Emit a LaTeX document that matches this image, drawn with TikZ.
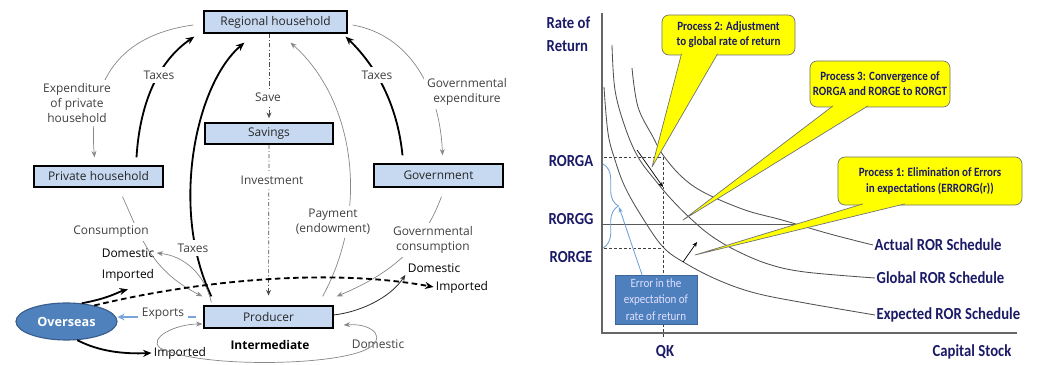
\documentclass[tikz,border=0pt]{standalone}
\usepackage{fontspec}
\setmainfont{Open Sans}
\newfontfamily\narrowfont[FakeStretch=0.87]{Carlito}
\usetikzlibrary{arrows.meta,decorations.pathreplacing,shapes.geometric}

\definecolor{boxblue}{RGB}{198,217,241}
\definecolor{seablue}{RGB}{79,129,189}
\definecolor{seaedge}{RGB}{56,93,140}
\definecolor{exportblue}{RGB}{120,165,220}
\definecolor{flowgray}{RGB}{135,135,135}
\definecolor{labelgray}{RGB}{64,64,64}
\definecolor{rornavy}{RGB}{26,26,102}
\definecolor{curvegray}{RGB}{80,80,80}
\definecolor{noteyellow}{RGB}{255,255,0}
\definecolor{errblue}{RGB}{78,128,190}
\definecolor{bracketblue}{RGB}{110,160,215}

\tikzset{
  flowbox/.style={draw=black, line width=0.9pt, fill=boxblue, inner sep=0pt,
    font=\fontsize{8.5}{10}\selectfont, text=black!85},
  flowlbl/.style={font=\fontsize{8.5}{10.8}\selectfont, text=labelgray, align=center, inner sep=1.5pt},
  onpath/.style={flowlbl, fill=white, inner sep=2.5pt},
  tradelbl/.style={flowlbl, text=black},
  thinflow/.style={draw=flowgray, line width=0.5pt, -{Stealth[length=4.5pt,width=3.5pt]}},
  thickflow/.style={draw=black, line width=1.3pt, -{Stealth[length=6pt,width=5pt]}},
  medflow/.style={draw=black!80, line width=0.6pt, -{Stealth[length=4.5pt,width=3.5pt]}},
  saveflow/.style={draw=black!70, line width=0.5pt, dash pattern=on 3pt off 1.5pt on 0.8pt off 1.5pt,
    -{Stealth[length=4pt,width=3.5pt]}},
  % right hand chart
  rorlbl/.style={font=\narrowfont\fontsize{12}{16}\selectfont\bfseries, text=rornavy, inner sep=1pt},
  rorcurve/.style={draw=curvegray, line width=0.6pt},
  guide/.style={draw=black!75, line width=0.5pt, dash pattern=on 2pt off 1.5pt},
  note/.style={draw=black!55, line width=0.5pt, fill=noteyellow, rounded corners=5pt, align=center,
    inner sep=0pt, font=\narrowfont\fontsize{9}{10.8}\selectfont\bfseries, text=rornavy},
  notetail/.style={draw=black!55, line width=0.5pt, fill=noteyellow, line join=round},
  shift arrow/.style={draw=black, line width=0.5pt, -{Stealth[length=3.5pt,width=3pt]}}
}

\begin{document}
\begin{tikzpicture}[x=0.025cm, y=-0.025cm]
\useasboundingbox (0,0) rectangle (1040,365);

% boxes of the circular flow
\node[flowbox, minimum width=3.575cm, minimum height=0.55cm] (reg) at (275.5,22) {Regional household};
\node[flowbox, minimum width=3.2cm, minimum height=0.525cm] (sav) at (269,133.5) {Savings};
\node[flowbox, minimum width=3.225cm, minimum height=0.525cm] (priv) at (98.5,176.5) {Private household};
\node[flowbox, minimum width=3.225cm, minimum height=0.575cm] (gov) at (438.5,175.5) {Government};
\node[flowbox, minimum width=3.225cm, minimum height=0.55cm] (prod) at (268.5,317) {Producer};
\node[ellipse, draw=seaedge, line width=0.8pt, fill=seablue, minimum width=2.525cm, minimum height=0.925cm,
  inner sep=0pt, text=white, font=\fontsize{9}{10}\selectfont\bfseries] (ovs) at (66.5,321.5) {Overseas};

% end points of the trade flows
\node[tradelbl] (domL) at (128,253) {Domestic};
\node[tradelbl] (impL) at (128,275) {Imported};
\node[tradelbl] (impB) at (180,353) {Imported};
\node[tradelbl] (domR) at (434,268) {Domestic};
\node[tradelbl] (impR) at (462,287) {Imported};
\node[flowlbl] (domB) at (378,344) {Domestic};
\node[flowlbl, text=black, font=\fontsize{8.5}{10}\selectfont\bfseries] (inter) at (270,345) {Intermediate};

% household and government flows
\draw[thinflow] ([shift={(-10,3)}]reg.west) .. controls (120,35) and (88,80) .. ([shift={(-4,-8)}]priv.north);
\draw[thickflow] ([shift={(38,-8)}]priv.north) .. controls (140,100) and (160,60) .. ([shift={(-9,3)}]reg.south west);
\draw[thickflow] ([shift={(8,-9)}]prod.north west) .. controls (170,210) and (195,85) .. ([shift={(41,9)}]reg.south west);
\draw[thinflow] ([shift={(-11,-9)}]prod.north east) .. controls (370,210) and (355,100) .. ([shift={(15,9)}]reg.south);
\draw[thickflow] ([shift={(-36,-8)}]gov.north) .. controls (398,110) and (380,70) .. ([shift={(-2,3)}]reg.south east);
\draw[thinflow] ([shift={(5,3)}]reg.east) .. controls (410,35) and (440,90) .. ([shift={(4,-8)}]gov.north);
\draw[saveflow, shorten >=3pt] (reg.south -| sav.north) -- (sav.north);
\draw[saveflow, shorten >=7pt] (sav.south) -- (prod.north);
\draw[thinflow] ([shift={(24,9)}]priv.south) .. controls (140,235) and (150,270) .. ([shift={(-1,-9)}]prod.north west);
\draw[thinflow] ([shift={(3,9)}]gov.south) .. controls (425,240) and (400,270) .. ([shift={(3,-9)}]prod.north east);

% trade with overseas
\draw[thinflow] ([shift={(8,-3)}]prod.north west) .. controls (205,275) and (185,256) .. (domL.east);
\draw[thickflow] (ovs.50) .. controls (110,298) and (118,292) .. ([shift={(0,6)}]impL.south);
\draw[thickflow] (ovs.-60) .. controls (100,352) and (125,354) .. (impB.west);
\draw[thickflow, dash pattern=on 4pt off 2.5pt] (ovs.30) .. controls (200,280) and (330,268) .. (impR.west);
\draw[draw=exportblue, line width=1.2pt, -{Stealth[length=5pt,width=5pt]}, shorten <=5pt]
  (prod.west) -- (prod.west -| ovs.east);
\draw[medflow] ([shift={(0,-2)}]prod.east) .. controls (360,312) and (390,298) .. (domR.south west);
\draw[thinflow, {Stealth[length=4.5pt,width=3.5pt]}-{Stealth[length=4.5pt,width=3.5pt]}]
  ([shift={(10,8)}]prod.east) .. controls (375,323) and (388,340) .. (365,350)
  .. controls (330,366) and (200,368) .. (160,348)
  .. controls (148,338) and (175,324) .. ([shift={(-1,7)}]prod.west);

% labels sitting on the flows
\node[onpath] at (77,103) {Expenditure\\of private\\household};
\node[onpath] at (159,75) {Taxes};
\node[onpath] at (377,75) {Taxes};
\node[onpath] at (467,92) {Governmental\\expenditure};
\node[onpath] at (268,97) {Save};
\node[onpath] at (272,180) {Investment};
\node[onpath] at (111,232) {Consumption};
\node[onpath] at (193,248) {Taxes};
\node[onpath] at (333,222) {Payment\\(endowment)};
\node[onpath] at (433,240) {Governmental\\consumption};
\node[onpath] at (163,314) {Exports};

% rate of return chart
\draw[draw=black!60, line width=0.9pt] (602,13) -- (602,333) -- (1017,333);
\node[rorlbl, align=left, anchor=west] (yaxis) at (545,34) {Rate of\\Return};
\node[rorlbl] (qk) at (665,352) {QK};
\node[rorlbl] (capstock) at (972,352) {Capital Stock};
\node[rorlbl] (rga) at (571,161) {RORGA};
\node[rorlbl] (rgg) at (571,219) {RORGG};
\node[rorlbl] (rge) at (571,257) {RORGE};
\node[rorlbl, anchor=west] (lact) at (873,245) {Actual ROR Schedule};
\node[rorlbl, anchor=west] (lglob) at (875,278) {Global ROR Schedule};
\node[rorlbl, anchor=west] (lexp) at (875,315) {Expected ROR Schedule};

\draw[guide] (604,157) -- (663,157) -- (663,338);
\draw[guide] (604,248) -- (663,248);
\draw[draw=black!65, line width=0.6pt] (602,224) -- (795,224);

\draw[rorcurve] plot[smooth, tension=0.6] coordinates {(632,68) (638,107) (653,137) (663,155) (682,177) (705,193) (745,210) (782,220) (830,234) (lact.west)};
\draw[rorcurve] plot[smooth, tension=0.6] coordinates {(612,45) (615,90) (625,127) (638,157) (655,180) (672,200) (690,218) (710,235) (735,250) (768,264) (805,272) (lglob.west)};
\draw[rorcurve] plot[smooth, tension=0.6] coordinates {(604,87) (608,133) (615,160) (625,187) (642,217) (663,247) (685,263) (718,280) (755,293) (805,303) (lexp.west)};

\draw[shift arrow] (637,150) -- (663,187);
\draw[shift arrow] (683,262) -- (697,242);

% error bracket
\draw[draw=bracketblue, line width=0.6pt, decorate, decoration={brace, amplitude=11pt, aspect=0.5}]
  (603,164) -- (603,248);
\coordinate (bracetip) at (619,207);
\node[fill=errblue, draw=errblue!80!black, line width=0.3pt, minimum width=2.05cm, minimum height=1.225cm,
  inner sep=0pt, align=center, text=white!88!blue, font=\narrowfont\fontsize{9}{11.7}\selectfont] (lerr)
  at (656,299.5) {Error in the\\expectation of\\rate of return};
\draw[draw=bracketblue, line width=0.6pt, -{Stealth[length=4pt,width=3pt]}] ([shift={(-14,0)}]lerr.north) -- (bracetip);

% process callouts
\node[note, minimum width=3.325cm, minimum height=1cm] (p2) at (728.5,35) {Process 2: Adjustment\\to global rate of return};
\node[note, minimum width=3.5cm, minimum height=1.15cm] (p3) at (880,84) {Process 3: Convergence of\\RORGA and RORGE to RORGT};
\node[note, minimum width=4.6cm, minimum height=1.2cm] (p1) at (930,181) {Process 1: Elimination of Errors\\in expectations (ERRORG(r))};
\coordinate (p2tip) at (652,167);
\coordinate (p3tip) at (683,220);
\coordinate (p1tip) at (695,255);
\filldraw[notetail] ([shift={(-47,-1.5)}]p2.south) -- (p2tip) -- ([shift={(-11,-1.5)}]p2.south);
\filldraw[notetail] ([shift={(-47,-1.5)}]p3.south) -- (p3tip) -- ([shift={(-12,-1.5)}]p3.south);
\filldraw[notetail] ([shift={(-67,-1.5)}]p1.south) -- (p1tip) -- ([shift={(-25,-1.5)}]p1.south);
\end{tikzpicture}
\end{document}
